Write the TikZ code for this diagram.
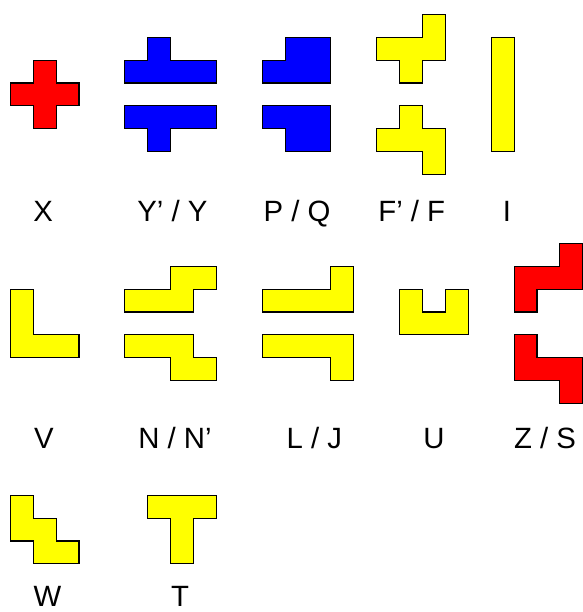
\documentclass[tikz,border=0pt]{standalone}
\usepackage{fontspec}
\setmainfont{Liberation Sans}
\begin{document}
\begin{tikzpicture}[x=17.175pt,y=-17.175pt,
  piece/.style={draw=black,line width=0.8pt,line join=miter},
  redp/.style={piece,fill={rgb,255:red,255;green,0;blue,0}},
  bluep/.style={piece,fill={rgb,255:red,0;green,0;blue,255}},
  yellowp/.style={piece,fill={rgb,255:red,255;green,255;blue,0}},
  lbl/.style={anchor=base,inner sep=0pt,font=\fontsize{22}{26}\selectfont}]
\useasboundingbox (-0.4498,-0.6245) rectangle (24.965,26.100);
% Row 1
\draw[redp] (1,2)--(2,2)--(2,3)--(3,3)--(3,4)--(2,4)--(2,5)--(1,5)--(1,4)--(0,4)--(0,3)--(1,3)--cycle;
\draw[bluep] (5,2)--(6,2)--(6,1)--(7,1)--(7,2)--(9,2)--(9,3)--(5,3)--cycle;
\draw[bluep] (5,4)--(9,4)--(9,5)--(7,5)--(7,6)--(6,6)--(6,5)--(5,5)--cycle;
\draw[bluep] (12,1)--(14,1)--(14,3)--(11,3)--(11,2)--(12,2)--cycle;
\draw[bluep] (11,4)--(14,4)--(14,6)--(12,6)--(12,5)--(11,5)--cycle;
\draw[yellowp] (18,0)--(19,0)--(19,2)--(18,2)--(18,3)--(17,3)--(17,2)--(16,2)--(16,1)--(18,1)--cycle;
\draw[yellowp] (17,4)--(18,4)--(18,5)--(19,5)--(19,7)--(18,7)--(18,6)--(16,6)--(16,5)--(17,5)--cycle;
\draw[yellowp] (21,1) rectangle (22,6);
% Row 2
\draw[yellowp] (0,12)--(1,12)--(1,14)--(3,14)--(3,15)--(0,15)--cycle;
\draw[yellowp] (7,11)--(9,11)--(9,12)--(8,12)--(8,13)--(5,13)--(5,12)--(7,12)--cycle;
\draw[yellowp] (5,14)--(8,14)--(8,15)--(9,15)--(9,16)--(7,16)--(7,15)--(5,15)--cycle;
\draw[yellowp] (14,11)--(15,11)--(15,13)--(11,13)--(11,12)--(14,12)--cycle;
\draw[yellowp] (11,14)--(15,14)--(15,16)--(14,16)--(14,15)--(11,15)--cycle;
\draw[yellowp] (17,12)--(18,12)--(18,13)--(19,13)--(19,12)--(20,12)--(20,14)--(17,14)--cycle;
\draw[redp] (24,10)--(25,10)--(25,12)--(23,12)--(23,13)--(22,13)--(22,11)--(24,11)--cycle;
\draw[redp] (22,14)--(23,14)--(23,15)--(25,15)--(25,17)--(24,17)--(24,16)--(22,16)--cycle;
% Row 3
\draw[yellowp] (0,21)--(1,21)--(1,22)--(2,22)--(2,23)--(3,23)--(3,24)--(1,24)--(1,23)--(0,23)--cycle;
\draw[yellowp] (6,21)--(9,21)--(9,22)--(8,22)--(8,24)--(7,24)--(7,22)--(6,22)--cycle;
% Labels
\node[lbl] (lx) at (1.43,9.03) {X};
\node[lbl] (ly) at (7.08,9.03) {Y’ / Y};
\node[lbl] (lp) at (12.52,9.03) {P / Q};
\node[lbl] (lf) at (17.53,9.03) {F’ / F};
\node[lbl] (li) at (21.69,9.03) {I};
\node[lbl] (lv) at (1.47,18.98) {V};
\node[lbl] (ln) at (7.19,18.98) {N / N’};
\node[lbl] (ll) at (13.28,18.98) {L / J};
\node[lbl] (lu) at (18.50,18.98) {U};
\node[lbl] (lz) at (23.35,18.98) {Z / S};
\node[lbl] (lw) at (1.62,25.86) {W};
\node[lbl] (lt) at (7.41,25.86) {T};
\end{tikzpicture}
\end{document}
